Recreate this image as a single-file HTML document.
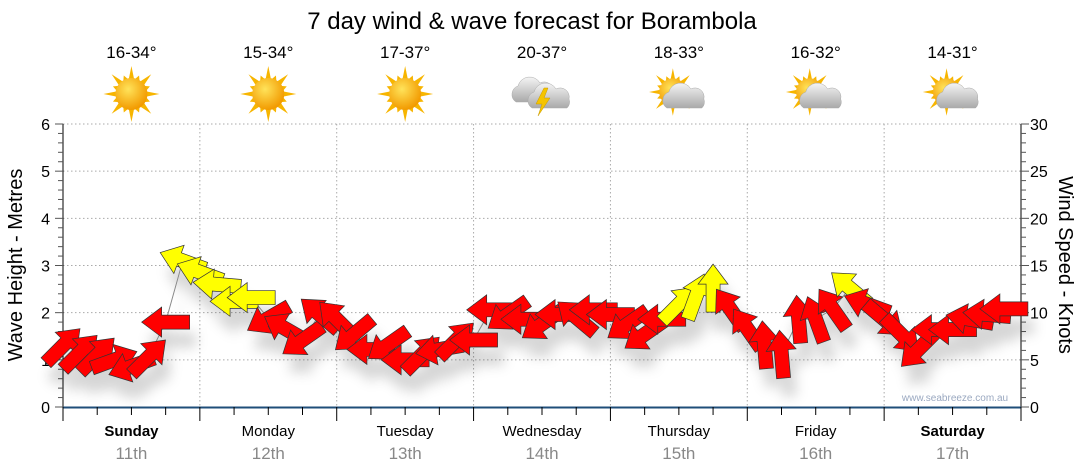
<!DOCTYPE html>
<html><head><meta charset="utf-8">
<style>
body{margin:0;background:#fff;width:1080px;height:475px;overflow:hidden;font-family:"Liberation Sans","DejaVu Sans",sans-serif}
svg{display:block}
</style></head>
<body>
<svg id="chart" width="1080" height="475" viewBox="0 0 1080 475">
<defs>
<radialGradient id="sunG" cx="40%" cy="35%" r="65%"><stop offset="0" stop-color="#ffe35a"/><stop offset="1" stop-color="#f29a00"/></radialGradient>
<linearGradient id="cloudG" x1="0" y1="0" x2="0" y2="1"><stop offset="0" stop-color="#f4f4f4"/><stop offset="1" stop-color="#a9a9a9"/></linearGradient>
<filter id="shadow" x="-50%" y="-50%" width="200%" height="200%"><feDropShadow dx="6" dy="18" stdDeviation="6" flood-color="#000" flood-opacity="0.16"/></filter>
</defs>
<text x="532" y="29" font-size="24" text-anchor="middle" fill="#000">7 day wind &amp; wave forecast for Borambola</text>
<g id="grid"></g>
<g id="axes"></g>
<g id="weather"></g>
<g id="series" filter="url(#shadow)"></g>
<text x="955" y="401" font-size="10" text-anchor="middle" fill="#9aa8c0">www.seabreeze.com.au</text>
<text transform="translate(22,265) rotate(-90)" font-size="20" text-anchor="middle">Wave Height - Metres</text>
<text transform="translate(1059,265) rotate(90)" font-size="20" text-anchor="middle">Wind Speed - Knots</text>
</svg>
<script>
const days=["Sunday","Monday","Tuesday","Wednesday","Thursday","Friday","Saturday"];
const dates=["11th","12th","13th","14th","15th","16th","17th"];
const temps=["16-34°","15-34°","17-37°","20-37°","18-33°","16-32°","14-31°"];
const icons=["sun","sun","sun","storm","partly","partly","partly"];
const waveTicks=[0,1,2,3,4,5,6];
const windTicks=[0,5,10,15,20,25,30];
// wind every 3 hours: speed (knots), direction the arrow points (deg, 0=east, CCW), colour flag
const windSpeed=[6.5,5.8,5.5,5.0,4.3,5.3,9.0,15.5, 14.3,13.0,11.2,11.6,9.4,8.3,7.1,9.8, 9.3,7.7,6.1,6.6,5.0,5.6,6.1,7.1, 7.1,10.3,9.8,9.3,8.8,9.8,9.5,10.3, 9.8,8.8,7.7,9.3,10.9,11.7,12.6,10.4, 8.3,6.6,5.6,9.3,9.3,10.4,12.6,10.9, 9.3,7.7,6.1,8.2,8.2,9.3,9.8,10.4];
const windDir=[45,45,45,20,200,45,180,160, 160,175,180,180,210,150,215,140, 135,220,180,215,180,45,190,45, 180,180,215,180,215,180,140,180, 180,215,215,180,45,70,90,125, 125,95,95,95,110,125,140,160, 320,315,225,180,180,170,175,180];
const windYellow=[0,0,0,0,0,0,0,1, 1,1,1,1,0,0,0,0, 0,0,0,0,0,0,0,0, 0,0,0,0,0,0,0,0, 0,0,0,0,1,1,1,0, 0,0,0,0,0,0,1,0, 0,0,0,0,0,0,0,0];

const svg=document.getElementById('chart');
const NS='http://www.w3.org/2000/svg';
const X0=63,X1=1021,Y0=407,Y1=124,HOURS=168;
const xT=h=>X0+(X1-X0)*h/HOURS;
const yWave=v=>Y0-(Y0-Y1)*v/6;
const yWind=v=>Y0-(Y0-Y1)*v/30;
function mk(tag,attrs,parent){const e=document.createElementNS(NS,tag);for(const k in attrs)e.setAttribute(k,attrs[k]);parent.appendChild(e);return e;}
const grid=document.getElementById('grid'),axes=document.getElementById('axes'),wx=document.getElementById('weather'),ser=document.getElementById('series');

waveTicks.forEach(v=>{if(v===0)return;const l=mk('line',{x1:X0,x2:X1,y1:yWave(v),y2:yWave(v),stroke:'#aaa','stroke-dasharray':'1.5,2.5'},grid);

});
for(let d=1;d<7;d++){const l=mk('line',{x1:xT(d*24),x2:xT(d*24),y1:Y1,y2:Y0,stroke:'#aaa','stroke-dasharray':'1.5,2.5'},grid);

}
mk('line',{x1:X0,x2:X0,y1:Y1,y2:Y0,stroke:'#000'},axes);
mk('line',{x1:X1,x2:X1,y1:Y1,y2:Y0,stroke:'#000'},axes);
const xa=mk('line',{x1:X0,x2:X1,y1:Y0+0.5,y2:Y0+0.5,stroke:'#1f4e79','stroke-width':2},axes);


for(let i=0;i<=30;i++){const y=yWave(i/5);mk('line',{x1:X0-(i%5===0?8:5),x2:X0,y1:y,y2:y,stroke:'#555'},axes);}
waveTicks.forEach(v=>{const t=mk('text',{x:50,y:yWave(v)+6,'font-size':16,'text-anchor':'end',fill:'#000'},axes);t.textContent=v;

});
for(let i=0;i<=30;i++){const y=yWind(i);mk('line',{x1:X1,x2:X1+(i%5===0?8:5),y1:y,y2:y,stroke:'#555'},axes);}
windTicks.forEach(v=>{const t=mk('text',{x:1030,y:yWind(v)+6,'font-size':16,fill:'#000'},axes);t.textContent=v;

});
for(let h=0;h<=HOURS;h+=6){mk('line',{x1:xT(h),x2:xT(h),y1:Y0,y2:Y0+(h%24===0?14:8),stroke:'#000'},axes);}
days.forEach((d,i)=>{const cx=xT(i*24+12);
const t=mk('text',{x:cx,y:436,'font-size':15,'text-anchor':'middle','font-weight':(i===0||i===6)?'bold':'normal',fill:'#000'},axes);t.textContent=d;


const t2=mk('text',{x:cx,y:459,'font-size':17,'text-anchor':'middle',fill:'#888'},axes);t2.textContent=dates[i];


const t3=mk('text',{x:cx,y:58,'font-size':17,'text-anchor':'middle',fill:'#000'},wx);t3.textContent=temps[i];


const g=mk('g',{transform:`translate(${cx},94)`},wx);


const sun=(s)=>{let p='';for(let k=0;k<16;k++){const a=k*Math.PI/8,r=k%2?20:28;const a1=a-0.18,a2=a+0.18;p+=`M${15*Math.cos(a1)*s},${15*Math.sin(a1)*s}L${r*Math.cos(a)*s},${r*Math.sin(a)*s}L${15*Math.cos(a2)*s},${15*Math.sin(a2)*s}Z`;}
mk('path',{d:p,fill:'#f7b500'},g);mk('circle',{cx:0,cy:0,r:16*s,fill:'url(#sunG)'},g);};
const cloud=(dx,dy,s)=>{mk('path',{d:`M${dx-18*s},${dy+10*s} a9,9 0 0 1 2,-16 a12,12 0 0 1 22,-3 a9,9 0 0 1 13,10 a8,8 0 0 1 -2,9 z`,fill:'url(#cloudG)',stroke:'#aaa','stroke-width':0.5},g);};
if(icons[i]==='sun')sun(1);
else if(icons[i]==='partly'){g.setAttribute('transform',`translate(${cx-6},92)`);sun(0.85);cloud(12,6,1);}
else{cloud(-8,-2,1);cloud(8,4,1);mk('path',{d:'M2,-6 L-6,10 L0,10 L-4,22 L8,4 L2,4 L6,-6 Z',fill:'#f5c400',stroke:'#c99a00','stroke-width':0.5},g);}
});

const pts=windSpeed.map((v,i)=>`${xT(i*3)},${yWind(v)}`).join(' ');
const pl=mk('polyline',{points:pts,fill:'none',stroke:'#888','stroke-width':1},ser);


const arrowPath='M24,0 L4,-15 L4,-7 L-24,-7 L-24,7 L4,7 L4,15 Z';
windSpeed.forEach((v,i)=>{const a=mk('path',{d:arrowPath,transform:`translate(${xT(i*3)},${yWind(v)}) rotate(${-windDir[i]})`,fill:windYellow[i]?'#ffff00':'#ff0000',stroke:'#333','stroke-width':0.7},ser);

});
</script>
</body></html>
